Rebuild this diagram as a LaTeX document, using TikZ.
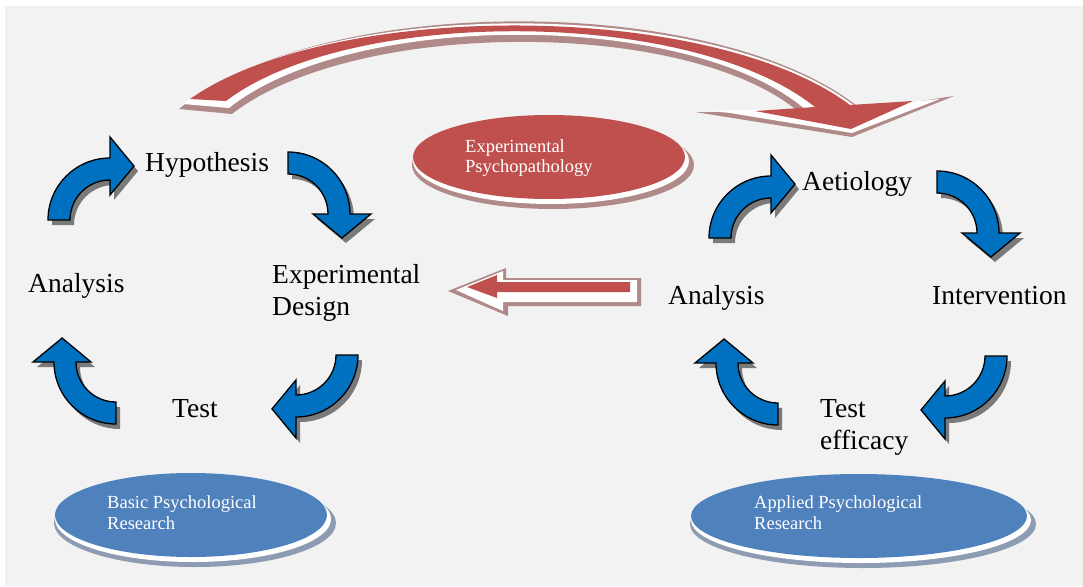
\documentclass[tikz,border=0pt]{standalone}
\usepackage{fontspec}
\setmainfont{Liberation Serif}
\definecolor{bgc}{HTML}{F2F2F2}
\definecolor{arrowblue}{HTML}{0070C0}
\definecolor{shadowgray}{HTML}{7A7A7A}
\definecolor{rednode}{HTML}{C0504D}
\definecolor{redshadow}{HTML}{B08A88}
\definecolor{bluenode}{HTML}{4F81BD}
\definecolor{blueshadow}{HTML}{8E9CB3}
\newcommand{\ArrowShape}[1]{(#1:62) arc[start angle=#1, end angle=#1+90, radius=62] -- (#1+90:83) -- (#1+114:59) -- (#1+90:25) -- (#1+90:40) arc[start angle=#1+90, end angle=#1, radius=40] -- cycle}
\newcommand{\CurvedArrow}[3]{%
  \fill[shadowgray] [shift={(#1+4,#2+5)}] \ArrowShape{#3};
  \draw[bluearrow] [shift={(#1,#2)}] \ArrowShape{#3};}
\begin{document}
\begin{tikzpicture}[x=1pt,y=-1pt,
  bluearrow/.style={fill=arrowblue,draw=black,line width=1.3pt},
  label/.style={anchor=base west,inner sep=0pt,font=\fontsize{27.5}{32}\selectfont},
  elabel/.style={anchor=base west,inner sep=0pt,text=white,font=\fontsize{18.5}{20.8}\selectfont}]
\useasboundingbox (0,0) rectangle (1083,586);
\fill[white] (0,0) rectangle (1083,586);
\fill[bgc] (5,6) rectangle (1083,586);

% ---- top red arc arrow ----
\fill[redshadow] (179,109) .. controls (320,-8) and (720,-8) .. (862,110) -- (954,96) -- (852,137) -- (695,112) -- (800,113) .. controls (690,18) and (355,18) .. (232,114) -- cycle;
\fill[white] (183,104) .. controls (325,-4) and (715,-4) .. (856,107) -- (940,99) -- (852,133) -- (712,110) -- (806,110) .. controls (690,10) and (352,10) .. (229,108) -- cycle;
\fill[rednode] (190,99) .. controls (330,0) and (710,0) .. (850,105) -- (913,101) -- (851,129) -- (755,111) -- (815,107) .. controls (690,7) and (350,7) .. (226,101) -- cycle;

% ---- left red arrow ----
\fill[redshadow] (448,291) -- (506,268) -- (506,278) -- (641,278) -- (641,306) -- (508,306) -- (508,316) -- cycle;
\fill[white] (456,290) -- (503,271) -- (503,280) -- (637,280) -- (637,302) -- (503,302) -- (503,311) -- cycle;
\fill[rednode] (467,287) -- (497,275) -- (497,282) -- (630,282) -- (630,292) -- (497,292) -- (497,298) -- cycle;

% ---- ellipses ----
\fill[redshadow] (553,165) ellipse [x radius=141, y radius=44];
\fill[white] (551,161) ellipse [x radius=138, y radius=43];
\fill[rednode] (549,157) ellipse [x radius=136, y radius=42];
\node[elabel] (ep1) at (465,152) {Experimental};
\node[elabel] (ep2) at (465,172) {Psychopathology};

\fill[blueshadow] (195,523) ellipse [x radius=141, y radius=44];
\fill[white] (193,519) ellipse [x radius=138, y radius=43];
\fill[bluenode] (191,515) ellipse [x radius=136, y radius=42];
\node[elabel] (bpr1) at (107,508) {Basic Psychological};
\node[elabel] (bpr2) at (107,529) {Research};

\fill[blueshadow] (863,524) ellipse [x radius=173, y radius=44];
\fill[white] (861,520) ellipse [x radius=170, y radius=43];
\fill[bluenode] (859,516) ellipse [x radius=168, y radius=42];
\node[elabel] (apr1) at (754,508) {Applied Psychological};
\node[elabel] (apr2) at (754,529) {Research};

% ---- blue curved arrows ----
\CurvedArrow{110}{220}{180}
\CurvedArrow{288}{214}{270}
\CurvedArrow{296}{355}{0}
\CurvedArrow{116}{362}{90}
\CurvedArrow{771}{238}{180}
\CurvedArrow{937}{233}{270}
\CurvedArrow{945}{356}{0}
\CurvedArrow{778}{363}{90}

% ---- labels ----
\node[label] (hyp) at (145,171) {Hypothesis};
\node[label] (an1) at (28,292) {Analysis};
\node[label] (exd1) at (272,283) {Experimental};
\node[label] (exd2) at (272,315) {Design};
\node[label] (tst) at (172,417) {Test};
\node[label] (aet) at (802,190) {Aetiology};
\node[label] (int) at (932,304) {Intervention};
\node[label] (an2) at (668,304) {Analysis};
\node[label] (tef1) at (820,417) {Test};
\node[label] (tef2) at (820,449) {efficacy};
\end{tikzpicture}
\end{document}
